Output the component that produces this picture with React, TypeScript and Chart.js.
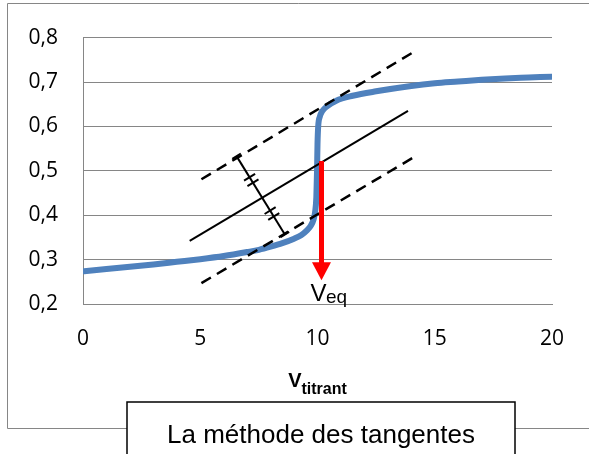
import React, { useEffect, useRef } from "react";
import { Chart, registerables } from "chart.js";

Chart.register(...registerables);

// ---- data ----
const xTicks = [0, 5, 10, 15, 20];
const yTicks = [0.2, 0.3, 0.4, 0.5, 0.6, 0.7, 0.8];

const curveX = [0.05, 1, 2, 3, 4, 5, 6, 7, 7.5, 8, 8.5, 9, 9.3, 9.55, 9.72, 9.83, 9.9, 9.95, 9.98, 10.0, 10.03, 10.1, 10.2, 10.4, 10.8, 11.5, 12.5, 14, 15, 16, 17, 18, 19, 20];
const curveY = [0.274, 0.279, 0.284, 0.289, 0.295, 0.301, 0.308, 0.317, 0.322, 0.329, 0.337, 0.347, 0.355, 0.366, 0.377, 0.39, 0.408, 0.44, 0.5, 0.56, 0.6, 0.622, 0.634, 0.645, 0.658, 0.669, 0.679, 0.691, 0.697, 0.701, 0.705, 0.708, 0.71, 0.712];

const upperTangentX = [5.05, 14.24];
const upperTangentY = [0.481, 0.772];
const midTangentX = [4.55, 13.86];
const midTangentY = [0.342, 0.635];
const lowerTangentX = [5.05, 14.28];
const lowerTangentY = [0.247, 0.536];

const perpX = [6.547, 8.609];
const perpY = [0.533, 0.3566];
const perpTickFractions = [0.27, 0.34, 0.695, 0.77];

const veqX = [10.17, 10.17];
const veqY = [0.522, 0.292];
const veqTipY = 0.2535;

const pts = (xs: number[], ys: number[]) => xs.map((x, i) => ({ x, y: ys[i] }));

const overlay = {
  id: "overlay",
  afterDatasetsDraw(chart: any) {
    const { ctx } = chart;
    const xs = chart.scales.x;
    const ys = chart.scales.y;
    ctx.save();
    const p0 = { x: xs.getPixelForValue(perpX[0]), y: ys.getPixelForValue(perpY[0]) };
    const p1 = { x: xs.getPixelForValue(perpX[1]), y: ys.getPixelForValue(perpY[1]) };
    const dx = p1.x - p0.x, dy = p1.y - p0.y;
    const len = Math.hypot(dx, dy);
    const ux = dx / len, uy = dy / len;
    const nx = -uy, ny = ux;
    ctx.strokeStyle = "#000";
    ctx.lineWidth = 2;
    const mark = (t: number, half: number) => {
      const cx = p0.x + dx * t, cy = p0.y + dy * t;
      ctx.beginPath();
      ctx.moveTo(cx - nx * half, cy - ny * half);
      ctx.lineTo(cx + nx * half, cy + ny * half);
      ctx.stroke();
    };
    perpTickFractions.forEach((t) => mark(t, 6.5));
    mark(0, 5);
    mark(1, 5);

    const ax = xs.getPixelForValue(veqX[0]);
    const tipY = ys.getPixelForValue(veqTipY);
    ctx.fillStyle = "#FF0000";
    ctx.beginPath();
    ctx.moveTo(ax, tipY);
    ctx.lineTo(ax - 9.5, tipY - 18);
    ctx.lineTo(ax + 9.5, tipY - 18);
    ctx.closePath();
    ctx.fill();

    ctx.fillStyle = "#000";
    ctx.textBaseline = "alphabetic";
    ctx.textAlign = "left";
    ctx.font = "24px 'Liberation Sans', Arial, sans-serif";
    const vx = ax - 11;
    ctx.fillText("V", vx, tipY + 21);
    const vw = ctx.measureText("V").width;
    ctx.font = "19px 'Liberation Sans', Arial, sans-serif";
    ctx.fillText("eq", vx + vw - 0.5, tipY + 23);
    ctx.restore();
  },
  afterDraw(chart: any) {
    const { ctx, chartArea } = chart;
    ctx.save();
    ctx.strokeStyle = "#868686";
    ctx.lineWidth = 1;
    ctx.beginPath();
    ctx.moveTo(600, 3.5);
    ctx.lineTo(7.5, 3.5);
    ctx.lineTo(7.5, 428.5);
    ctx.lineTo(600, 428.5);
    ctx.stroke();

    const cx = (chartArea.left + chartArea.right) / 2;
    ctx.fillStyle = "#000";
    ctx.textBaseline = "alphabetic";
    ctx.textAlign = "left";
    ctx.font = "bold 20px 'Liberation Sans', Arial, sans-serif";
    const w1 = ctx.measureText("V").width;
    ctx.font = "bold 16px 'Liberation Sans', Arial, sans-serif";
    const w2 = ctx.measureText("titrant").width;
    const start = cx - (w1 + w2) / 2;
    ctx.font = "bold 20px 'Liberation Sans', Arial, sans-serif";
    ctx.fillText("V", start, 387);
    ctx.font = "bold 16px 'Liberation Sans', Arial, sans-serif";
    ctx.fillText("titrant", start + w1, 393.5);

    ctx.fillStyle = "#fff";
    ctx.fillRect(127, 402, 388, 60);
    ctx.strokeStyle = "#000";
    ctx.lineWidth = 1.5;
    ctx.strokeRect(127, 402, 388, 60);
    ctx.fillStyle = "#000";
    ctx.textAlign = "center";
    ctx.font = "26px 'Liberation Sans', Arial, sans-serif";
    ctx.fillText("La méthode des tangentes", 321, 443);
    ctx.restore();
  },
};

export default function App() {
  const ref = useRef<HTMLCanvasElement | null>(null);
  useEffect(() => {
    if (!ref.current) return;
    const chart = new Chart(ref.current, {
      type: "scatter",
      data: {
        datasets: [
          {
            data: pts(upperTangentX, upperTangentY),
            showLine: true, borderColor: "#000", borderWidth: 2.5, borderDash: [11, 7], pointRadius: 0, order: 1,
          },
          {
            data: pts(midTangentX, midTangentY),
            showLine: true, borderColor: "#000", borderWidth: 2, pointRadius: 0, order: 1,
          },
          {
            data: pts(lowerTangentX, lowerTangentY),
            showLine: true, borderColor: "#000", borderWidth: 2.5, borderDash: [11, 7], pointRadius: 0, order: 1,
          },
          {
            data: pts(perpX, perpY),
            showLine: true, borderColor: "#000", borderWidth: 2, pointRadius: 0, order: 1,
          },
          {
            data: pts(veqX, veqY),
            showLine: true, borderColor: "#FF0000", borderWidth: 5, pointRadius: 0, order: 0,
          },
          {
            data: pts(curveX, curveY),
            showLine: true, borderColor: "#4F81BD", borderWidth: 6, pointRadius: 0,
            cubicInterpolationMode: "monotone", borderCapStyle: "round", borderJoinStyle: "round", order: 10,
          },
        ] as any,
      },
      options: {
        responsive: false,
        animation: false,
        devicePixelRatio: 1,
        layout: { padding: { left: 0, top: 32, right: 37, bottom: 0 } },
        plugins: { legend: { display: false }, tooltip: { enabled: false }, title: { display: false } },
        scales: {
          x: {
            type: "linear", min: 0, max: 20,
            afterBuildTicks: (s: any) => { s.ticks = xTicks.map((v) => ({ value: v })); },
            afterFit: (s: any) => { s.height = 150; },
            grid: { display: false, drawTicks: false },
            border: { display: true, color: "#868686" },
            ticks: { padding: 22, color: "#000", font: { family: "'Open Sans'", size: 21 }, maxRotation: 0 },
          },
          y: {
            type: "linear", min: 0.2, max: 0.8,
            afterBuildTicks: (s: any) => { s.ticks = yTicks.map((v) => ({ value: v })); },
            afterFit: (s: any) => { s.width = 83; },
            grid: { color: "#868686", lineWidth: 1, drawTicks: false },
            border: { display: true, color: "#868686" },
            ticks: {
              padding: 25, color: "#000", font: { family: "'Open Sans'", size: 21 },
              callback: (v: any) => Number(v).toFixed(1).replace(".", ","),
            },
          },
        },
      } as any,
      plugins: [overlay],
    });
    return () => chart.destroy();
  }, []);
  return (
    <div style={{ position: "fixed", left: 0, top: 0, width: 589, height: 454, background: "#fff" }}>
      <canvas ref={ref} width={589} height={454} style={{ display: "block" }} />
    </div>
  );
}
